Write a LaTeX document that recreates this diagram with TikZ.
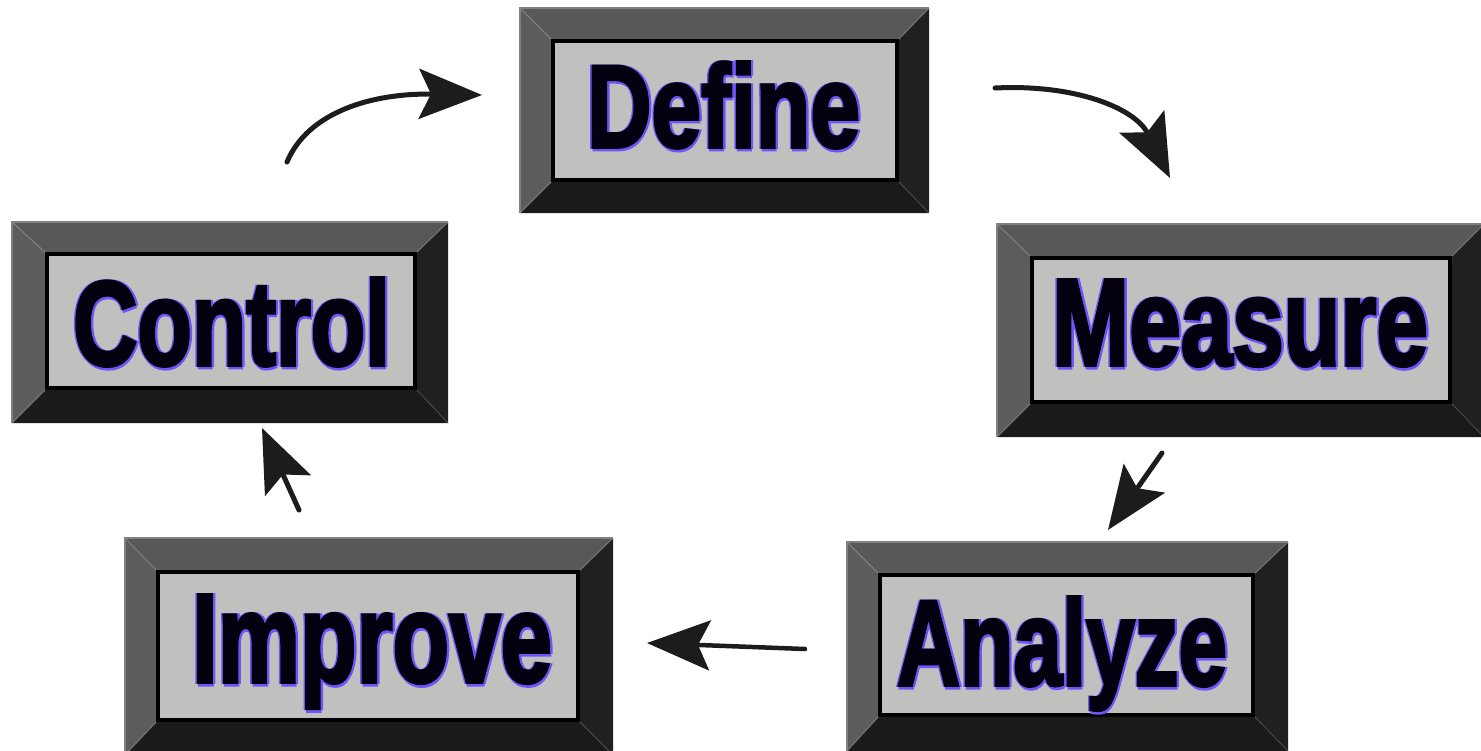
\documentclass[tikz,border=0pt]{standalone}
\usepackage{fontspec}
\usepackage{graphicx}
\usetikzlibrary{arrows.meta,fit}

\newfontfamily\capfont{Liberation Sans}[BoldFeatures={FakeBold=3}]

\definecolor{capTop}{RGB}{88,88,88}
\definecolor{capLeft}{RGB}{92,92,92}
\definecolor{capRight}{RGB}{32,32,32}
\definecolor{capBottom}{RGB}{26,26,26}
\definecolor{capRim}{RGB}{128,128,128}
\definecolor{capSeam}{RGB}{140,140,140}
\definecolor{faceGray}{RGB}{192,192,190}
\definecolor{inkHalo}{RGB}{110,85,250}
\definecolor{ink}{RGB}{4,0,16}
\definecolor{arrowInk}{RGB}{28,28,28}

% black lettering with a violet fringe
\newcommand\halo[1]{%
  \makebox[0pt][l]{\kern2.4pt\textcolor{inkHalo}{#1}}%
  \makebox[0pt][l]{\kern-1.4pt\textcolor{inkHalo}{#1}}%
  \makebox[0pt][l]{\kern1pt\raisebox{-2pt}{\textcolor{inkHalo}{#1}}}%
  \textcolor{ink}{#1}}

\tikzset{
  face/.style={fill=faceGray, draw=black, line width=4pt, inner sep=0pt, outer sep=0pt},
  seam/.style={draw=capSeam, line width=1.2pt, opacity=0.6},
  flow/.style={draw=arrowInk, line width=5pt, line cap=round,
    -{Stealth[length=63pt,width=50pt,inset=12pt]}},
}

% bevelled key: name, outer x1 y1 x2 y2, inner x1 y1 x2 y2
\newcommand\keycap[9]{%
  \fill[capTop]    (#2,#3) -- (#4,#3) -- (#8,#7) -- (#6,#7) -- cycle;
  \fill[capLeft]   (#2,#3) -- (#6,#7) -- (#6,#9) -- (#2,#5) -- cycle;
  \fill[capRight]  (#4,#3) -- (#4,#5) -- (#8,#9) -- (#8,#7) -- cycle;
  \fill[capBottom] (#2,#5) -- (#6,#9) -- (#8,#9) -- (#4,#5) -- cycle;
  \draw[capRim, line width=2pt] (#2,#5) -- (#2,#3) -- (#4,#3);
  \draw[seam] (#2,#3) -- (#6,#7);
  \draw[seam] (#4,#3) -- (#8,#7);
  \draw[seam] (#2,#5) -- (#6,#9);
  \draw[seam, opacity=0.25] (#4,#5) -- (#8,#9);
  \node[face, fit={(#6,#7) (#8,#9)}] (#1) {};
}

% label: name, left, baseline, width, height, text
\newcommand\keylabel[6]{%
  \node[anchor=base west, inner sep=0pt, outer sep=0pt] (#1) at (#2,#3)
    {\resizebox{#4pt}{#5pt}{\capfont\bfseries\fontsize{90}{90}\selectfont\halo{#6}}};
}

\begin{document}
\begin{tikzpicture}[x=1pt, y=-1pt]
  \fill[white] (0,0) rectangle (1481,750);
  \useasboundingbox (0,0) rectangle (1481,750);
  \clip (0,0) rectangle (1481,750);

  \keycap{define}{520}{8}{929}{213}{553}{41}{897}{180}
  \keycap{measure}{997}{224}{1484}{437}{1032}{258}{1450}{402}
  \keycap{analyze}{847}{542}{1288}{751}{880}{575}{1253}{715}
  \keycap{improve}{125}{538}{613}{755}{158}{572}{578}{720}
  \keycap{control}{12}{222}{448}{423}{47}{254}{415}{388}

  \keylabel{defineText}{587}{147}{273}{85}{Define}
  \keylabel{measureText}{1052}{365}{376}{85}{Measure}
  \keylabel{analyzeText}{897}{685}{330}{88}{Analyze}
  \keylabel{improveText}{192}{682}{360}{87}{Improve}
  \keylabel{controlText}{73}{365}{317}{87}{Control}

  % cycle arrows
  \coordinate (controlOut) at (287,162);
  \coordinate (defineIn)   at (482,95);
  \coordinate (defineOut)  at (995,88);
  \coordinate (measureIn)  at (1170,178);
  \coordinate (measureOut) at (1162,453);
  \coordinate (analyzeIn)  at (1108,530);
  \coordinate (analyzeOut) at (805,649);
  \coordinate (improveIn)  at (647,643);
  \coordinate (improveOut) at (299,510);
  \coordinate (controlIn)  at (262,428);

  \draw[flow] (controlOut) .. controls (308,112) and (372,93) .. (defineIn);
  \draw[flow] (defineOut) .. controls (1075,84) and (1135,108) .. (measureIn);
  \draw[flow] (measureOut) -- (analyzeIn);
  \draw[flow, line width=4.5pt] (analyzeOut) -- (improveIn);
  \draw[flow] (improveOut) -- (controlIn);
\end{tikzpicture}
\end{document}
